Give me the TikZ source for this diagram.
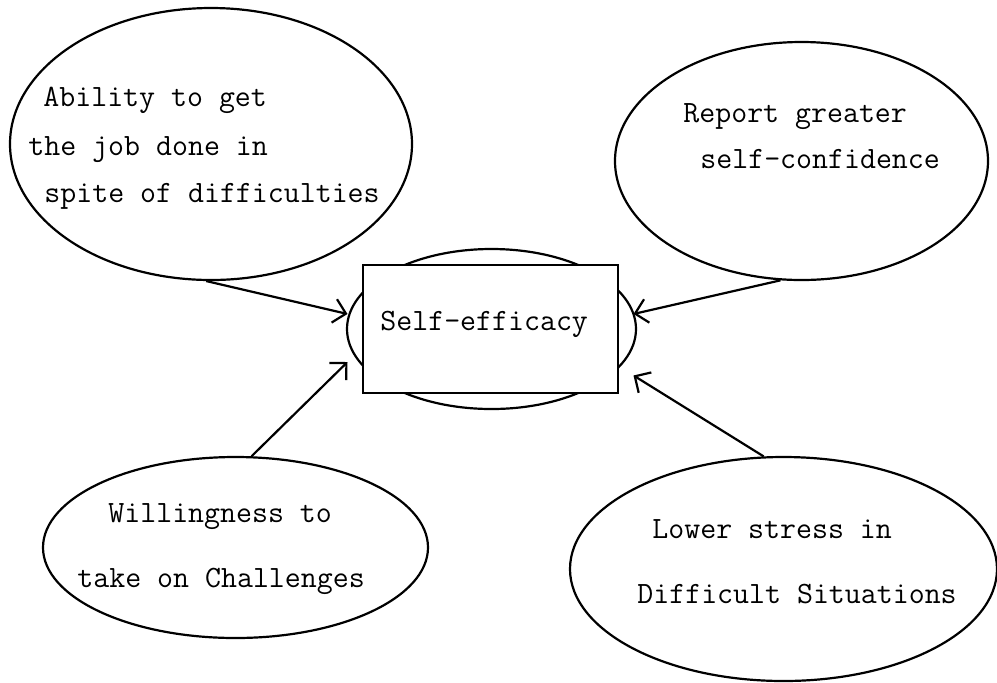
\documentclass[tikz,border=0pt]{standalone}
\usepackage{fontspec}
\usetikzlibrary{arrows.meta,shapes.geometric}
\tikzset{
	bubble/.style={draw,ellipse,line width=1.1pt,inner sep=0pt},
	core/.style={draw,rectangle,line width=1.1pt,fill=white,inner sep=0pt,outer xsep=7.75pt},
	txt/.style={anchor=base west,inner sep=0pt,font=\ttfamily\fontsize{15.5}{18}\selectfont},
	link/.style={line width=1.1pt,-{Straight Barb[length=6pt,width=12pt,line width=1.1pt]}}
}
\begin{document}
\begin{tikzpicture}[x=0.5pt,y=-0.5pt]
		\useasboundingbox (0,0) rectangle (997,682);
		\node [bubble,minimum width=201pt,minimum height=136pt] (ability) at (211,144) {};
		\node [bubble,minimum width=186.5pt,minimum height=119pt] (confidence) at (801.5,161) {};
		\node [bubble,minimum width=192.5pt,minimum height=90.5pt] (willing) at (235.5,547.5) {};
		\node [bubble,minimum width=213.5pt,minimum height=112pt] (stress) at (783.5,569) {};
		\node [bubble,minimum width=144.5pt,minimum height=80pt] (ring) at (491.5,329) {};
		\node [core,minimum width=127.5pt,minimum height=64pt] (efficacy) at (490.5,329) {};
		\node [txt] (efficacytext) at (380,330) {Self-efficacy};
		\node [txt] (ability1) at (43,106) {Ability to get};
		\node [txt] (ability2) at (28,155) {the job done in};
		\node [txt] (ability3) at (44,202) {spite of difficulties};
		\node [txt] (confidence1) at (683,122) {Report greater};
		\node [txt] (confidence2) at (700,168) {self-confidence};
		\node [txt] (willing1) at (108,522) {Willingness to};
		\node [txt] (willing2) at (77,587) {take on Challenges};
		\node [txt] (stress1) at (652,538) {Lower stress in};
		\node [txt] (stress2) at (637,603) {Difficult Situations};
		\draw [link] (ability.-92) -- (efficacy.174);
		\draw [link] (confidence.-100) -- (efficacy.6.4);
		\draw [link] (willing.80) -- (efficacy.193);
		\draw [link] (stress.100) -- (efficacy.-18.5);
	\end{tikzpicture}
\end{document}
